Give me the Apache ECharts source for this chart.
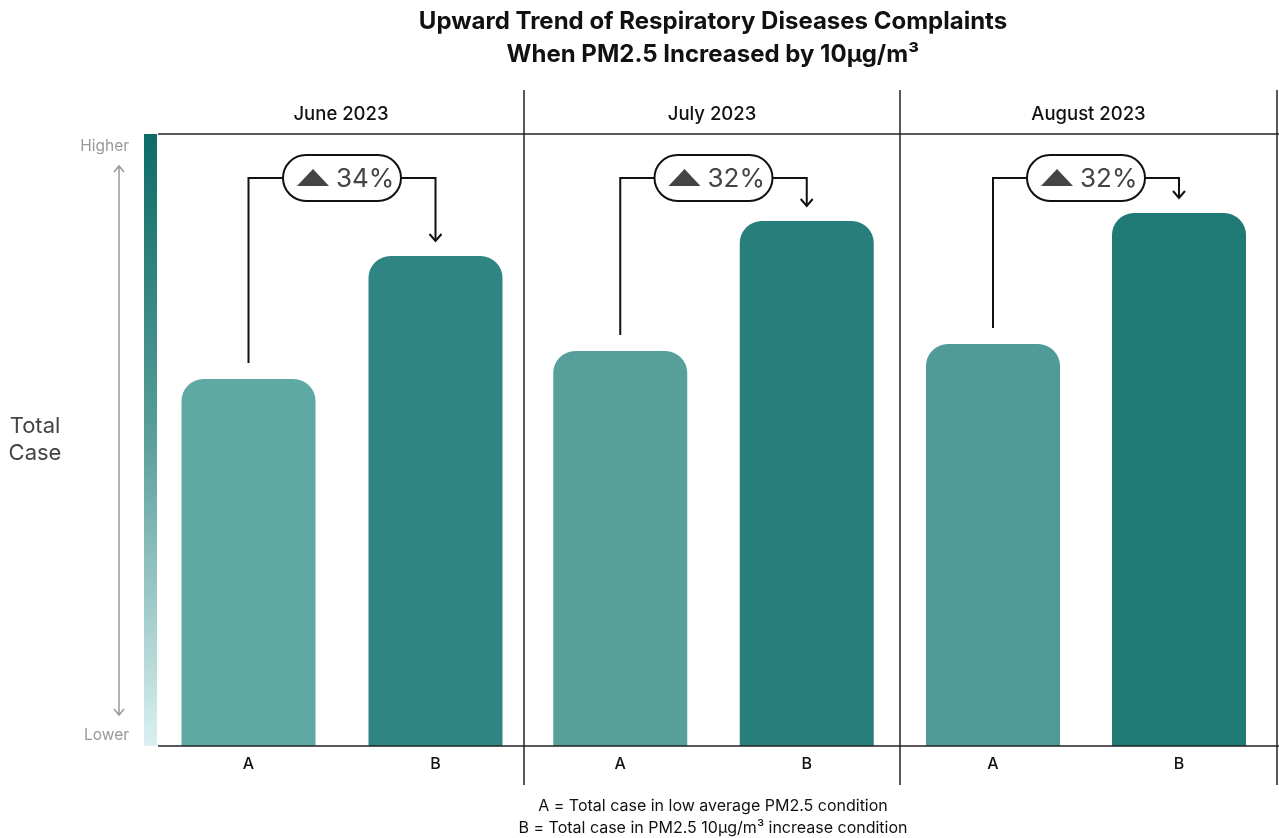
<!DOCTYPE html>
<html>
<head>
<meta charset="utf-8">
<title>Upward Trend of Respiratory Diseases Complaints</title>
<script src="https://cdn.jsdelivr.net/npm/echarts@6/dist/echarts.min.js"></script>
<style>
  html, body { margin: 0; padding: 0; background: #ffffff; }
  #chart { width: 1279px; height: 838px; }
</style>
</head>
<body>
<div id="chart"></div>
<script>
// Panels (months), bar categories and values (relative case totals)
const months = ['June 2023', 'July 2023', 'August 2023'];
const categories = ['A', 'B'];
const lowPM = [367, 395, 402];      // A: low average PM2.5
const highPM = [490, 525, 533];     // B: PM2.5 +10µg/m³
const increasePct = ['34%', '32%', '32%'];
const footnotes = [
  'A = Total case in low average PM2.5 condition',
  'B = Total case in PM2.5 10µg/m³ increase condition'
];

const barColors = [
  ['#5fa9a4', '#2e8581'],
  ['#579f9b', '#287e7a'],
  ['#509b97', '#1f7a76']
];

const FONT = 'Inter, "Noto Sans", sans-serif';
const chart = echarts.init(document.getElementById('chart'));

// plot areas for each month and the frame columns around them
const panels = [
  { left: 155, width: 374 },
  { left: 527, width: 373 },
  { left: 900, width: 372 }
];
const frameX = [158, 524, 900, 1277];
const TOP = 134, HEIGHT = 612, BASE = TOP + HEIGHT;

const grids = panels.map(p => ({ left: p.left, top: TOP, width: p.width, height: HEIGHT }));
const xAxes = panels.map((p, i) => ({
  type: 'category', gridIndex: i, data: categories,
  axisLine: { show: false }, axisTick: { show: false },
  axisLabel: { color: '#111', fontSize: 16, fontWeight: 500, fontFamily: FONT, margin: 10 }
}));
const yAxes = panels.map((p, i) => ({
  type: 'value', gridIndex: i, min: 0, max: 612, show: false
}));

const series = [];
months.forEach((m, i) => {
  series.push({
    type: 'bar', xAxisIndex: i, yAxisIndex: i,
    barWidth: 134,
    data: [
      { value: lowPM[i], itemStyle: { color: barColors[i][0] } },
      { value: highPM[i], itemStyle: { color: barColors[i][1] } }
    ],
    itemStyle: { borderRadius: [22, 22, 0, 0] },
    silent: true
  });
  // Bracket from A to B with the increase badge
  series.push({
    type: 'custom', xAxisIndex: i, yAxisIndex: i, clip: false, silent: true,
    data: [[0, lowPM[i], highPM[i]]],
    encode: { x: 0, y: 1 },
    z: 5,
    renderItem: function (params, api) {
      const pa = api.coord([0, api.value(1)]);
      const pb = api.coord([1, api.value(2)]);
      const label = increasePct[params.seriesIndex >> 1];
      const yLine = params.coordSys.y + 44;
      const mid = (pa[0] + pb[0]) / 2;
      const pillW = 118, pillH = 46;
      const tipY = pb[1] - 15;
      const lineStyle = { stroke: '#111', lineWidth: 2, fill: null };
      return {
        type: 'group',
        children: [
          { type: 'polyline', shape: { points: [[pa[0], pa[1] - 16], [pa[0], yLine], [mid - pillW / 2, yLine]] }, style: lineStyle },
          { type: 'polyline', shape: { points: [[mid + pillW / 2, yLine], [pb[0], yLine], [pb[0], tipY]] }, style: lineStyle },
          { type: 'polyline', shape: { points: [[pb[0] - 6, tipY - 7], [pb[0], tipY], [pb[0] + 6, tipY - 7]] }, style: lineStyle },
          { type: 'rect', shape: { x: mid - pillW / 2, y: yLine - pillH / 2, width: pillW, height: pillH, r: pillH / 2 },
            style: { fill: '#fff', stroke: '#111', lineWidth: 2 } },
          { type: 'polygon', shape: { points: [[mid - 45, yLine + 8], [mid - 29, yLine - 9], [mid - 13, yLine + 8]] },
            style: { fill: '#444' } },
          { type: 'text', x: mid - 6, y: yLine + 1,
            style: { text: label, fill: '#444', fontSize: 26, fontFamily: FONT, align: 'left', verticalAlign: 'middle' } }
        ]
      };
    }
  });
});

const graphic = [];
// Title
graphic.push({ type: 'text', x: 713, y: 22, style: { text: 'Upward Trend of Respiratory Diseases Complaints',
  fill: '#111', fontSize: 24, fontWeight: 'bold', fontFamily: FONT, align: 'center', verticalAlign: 'middle' } });
graphic.push({ type: 'text', x: 713, y: 55, style: { text: 'When PM2.5 Increased by 10µg/m³',
  fill: '#111', fontSize: 24, fontWeight: 'bold', fontFamily: FONT, align: 'center', verticalAlign: 'middle' } });
// Panel headers
months.forEach((m, i) => {
  graphic.push({ type: 'text', x: (frameX[i] + frameX[i + 1]) / 2, y: 114,
    style: { text: m, fill: '#111', fontSize: 18.5, fontWeight: 500, fontFamily: FONT, align: 'center', verticalAlign: 'middle' } });
});
// Frame lines
const frame = { stroke: '#222', lineWidth: 1.5 };
graphic.push({ type: 'line', shape: { x1: 158, y1: TOP, x2: 1279, y2: TOP }, style: frame });
graphic.push({ type: 'line', shape: { x1: 158, y1: BASE, x2: 1279, y2: BASE }, style: frame, z: 10 });
frameX.slice(1).forEach(x => {
  graphic.push({ type: 'line', shape: { x1: x, y1: 90, x2: x, y2: 785 }, style: frame });
});
// Value scale gradient strip
graphic.push({ type: 'rect', shape: { x: 144, y: TOP, width: 13, height: HEIGHT },
  style: { fill: new echarts.graphic.LinearGradient(0, 0, 0, 1, [
    { offset: 0, color: '#0e6b66' },
    { offset: 0.5, color: '#5a9f9b' },
    { offset: 1, color: '#daf0f1' }
  ]) } });
graphic.push({ type: 'text', x: 129, y: 146, style: { text: 'Higher', fill: '#999', fontSize: 15.5, fontFamily: FONT, align: 'right', verticalAlign: 'middle' } });
graphic.push({ type: 'text', x: 129, y: 735, style: { text: 'Lower', fill: '#999', fontSize: 15.5, fontFamily: FONT, align: 'right', verticalAlign: 'middle' } });
// Double-headed arrow
const arrowStyle = { stroke: '#999', lineWidth: 1.5, fill: null };
graphic.push({ type: 'line', shape: { x1: 119, y1: 166, x2: 119, y2: 715 }, style: arrowStyle });
graphic.push({ type: 'polyline', shape: { points: [[114, 172], [119, 166], [124, 172]] }, style: arrowStyle });
graphic.push({ type: 'polyline', shape: { points: [[114, 709], [119, 715], [124, 709]] }, style: arrowStyle });
// Y axis title
graphic.push({ type: 'text', x: 35, y: 440, style: { text: 'Total\nCase', fill: '#444', fontSize: 22, lineHeight: 27,
  fontFamily: FONT, align: 'center', verticalAlign: 'middle' } });
// Footnote
footnotes.forEach((t, i) => {
  graphic.push({ type: 'text', x: 713, y: 806 + i * 22, style: { text: t, fill: '#111', fontSize: 16, fontFamily: FONT, align: 'center', verticalAlign: 'middle' } });
});

chart.setOption({
  animation: false,
  grid: grids,
  xAxis: xAxes,
  yAxis: yAxes,
  series: series,
  graphic: graphic
});
</script>
</body>
</html>
